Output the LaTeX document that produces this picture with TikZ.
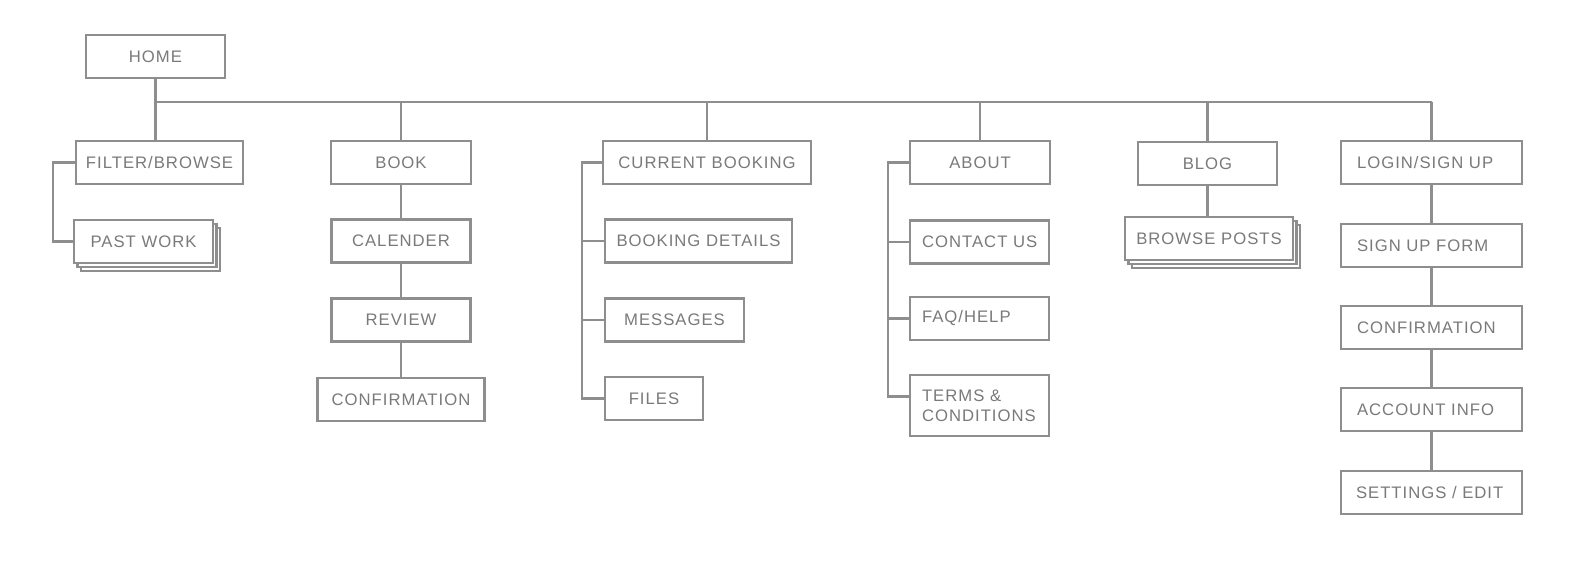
\documentclass[tikz,border=0pt]{standalone}
\usepackage{fontspec}
\usepackage{tikz}
\usetikzlibrary{shadows}
\newfontfamily\labfont[LetterSpace=6]{Liberation Sans}
\definecolor{linegray}{RGB}{142,142,142}
\definecolor{textgray}{RGB}{122,122,122}

\tikzset{
  page/.style={draw=linegray, fill=white, line width=1.2pt, text=textgray,
    font=\labfont\fontsize{9.5}{11.5}\selectfont, inner sep=0pt, minimum height=0.86cm},
  pw/.style={minimum width=#1*0.02cm},
  lpage/.style 2 args={page, align=left, inner xsep=#1, text width=#2},
  stack/.style={
    copy shadow={shadow xshift=0.14cm, shadow yshift=-0.16cm, draw=linegray, fill=white},
    copy shadow={shadow xshift=0.07cm, shadow yshift=-0.08cm, draw=linegray, fill=white}},
  link/.style={draw=linegray, line width=1.2pt}
}

\begin{document}
\begin{tikzpicture}[x=0.02cm, y=-0.02cm]
\useasboundingbox (0,0) rectangle (1578,579);

\node[page, pw=139] (home) at (155.5,56.5) {HOME};
\coordinate (bus) at (0,101.7);

% first level
\node[page, pw=167] (filter) at (159.5,162.5) {FILTER/BROWSE};
\node[page, pw=140] (book) at (401,162.5) {BOOK};
\node[page, pw=208] (current) at (707,162.5) {CURRENT BOOKING};
\node[page, pw=140] (about) at (980,162.5) {ABOUT};
\node[page, pw=139] (blog) at (1207.5,163.5) {BLOG};
\node[lpage={0.32cm}{2.98cm}] (login) at (1431.5,162.5) {LOGIN/SIGN~UP};

% second level
\node[page, pw=139, stack] (pastwork) at (143.5,241.5) {PAST WORK};

\node[page, pw=139] (calender) at (401,241) {CALENDER};
\node[page, pw=139] (review) at (401,320) {REVIEW};
\node[page, pw=167] (bconfirm) at (401,399.5) {CONFIRMATION};

\node[page, pw=187] (details) at (698.5,241) {BOOKING DETAILS};
\node[page, pw=139] (messages) at (674.5,320) {MESSAGES};
\node[page, pw=98] (files) at (654,398.5) {FILES};

\node[lpage={0.24cm}{2.3cm}] (contact) at (979.5,242) {CONTACT~US};
\node[lpage={0.24cm}{2.3cm}] (faq) at (979.5,318.5) {FAQ/HELP};
\node[lpage={0.24cm}{2.3cm}, minimum height=1.22cm] (terms) at (979.5,405.5) {TERMS \&\\CONDITIONS};

\node[page, pw=168, stack] (posts) at (1209,238.5) {BROWSE POSTS};

\node[lpage={0.32cm}{2.98cm}] (signup) at (1431.5,245.5) {SIGN~UP~FORM};
\node[lpage={0.32cm}{2.98cm}] (lconfirm) at (1431.5,327.5) {CONFIRMATION};
\node[lpage={0.32cm}{2.98cm}] (account) at (1431.5,409.5) {ACCOUNT~INFO};
\node[lpage={0.3cm}{3.02cm}] (settings) at (1431.5,492.5) {SETTINGS~/~EDIT};

% connectors
\draw[link] (home.south) -- (home.south |- filter.north);
\draw[link] (home.south |- bus) -- (login.north |- bus);
\foreach \n in {book,current,about,blog,login}
  \draw[link] (\n.north |- bus) -- (\n.north);

\coordinate (fbr) at (53,0);
\coordinate (cbr) at (582,0);
\coordinate (abr) at (888,0);
\draw[link] (filter.west) -- (filter.west -| fbr) |- (pastwork.west);
\draw[link] (current.west) -- (current.west -| cbr) |- (files.west);
\foreach \n in {details,messages}
  \draw[link] (\n.west) -- (\n.west -| cbr);
\draw[link] (about.west) -- (about.west -| abr) |- ([yshift=0.18cm]terms.west);
\foreach \n in {contact,faq}
  \draw[link] (\n.west) -- (\n.west -| abr);

\draw[link] (book) -- (calender) -- (review) -- (bconfirm);
\draw[link] (blog.south) -- (blog.south |- posts.north);
\draw[link] (login) -- (signup) -- (lconfirm) -- (account) -- (settings);

\end{tikzpicture}
\end{document}
